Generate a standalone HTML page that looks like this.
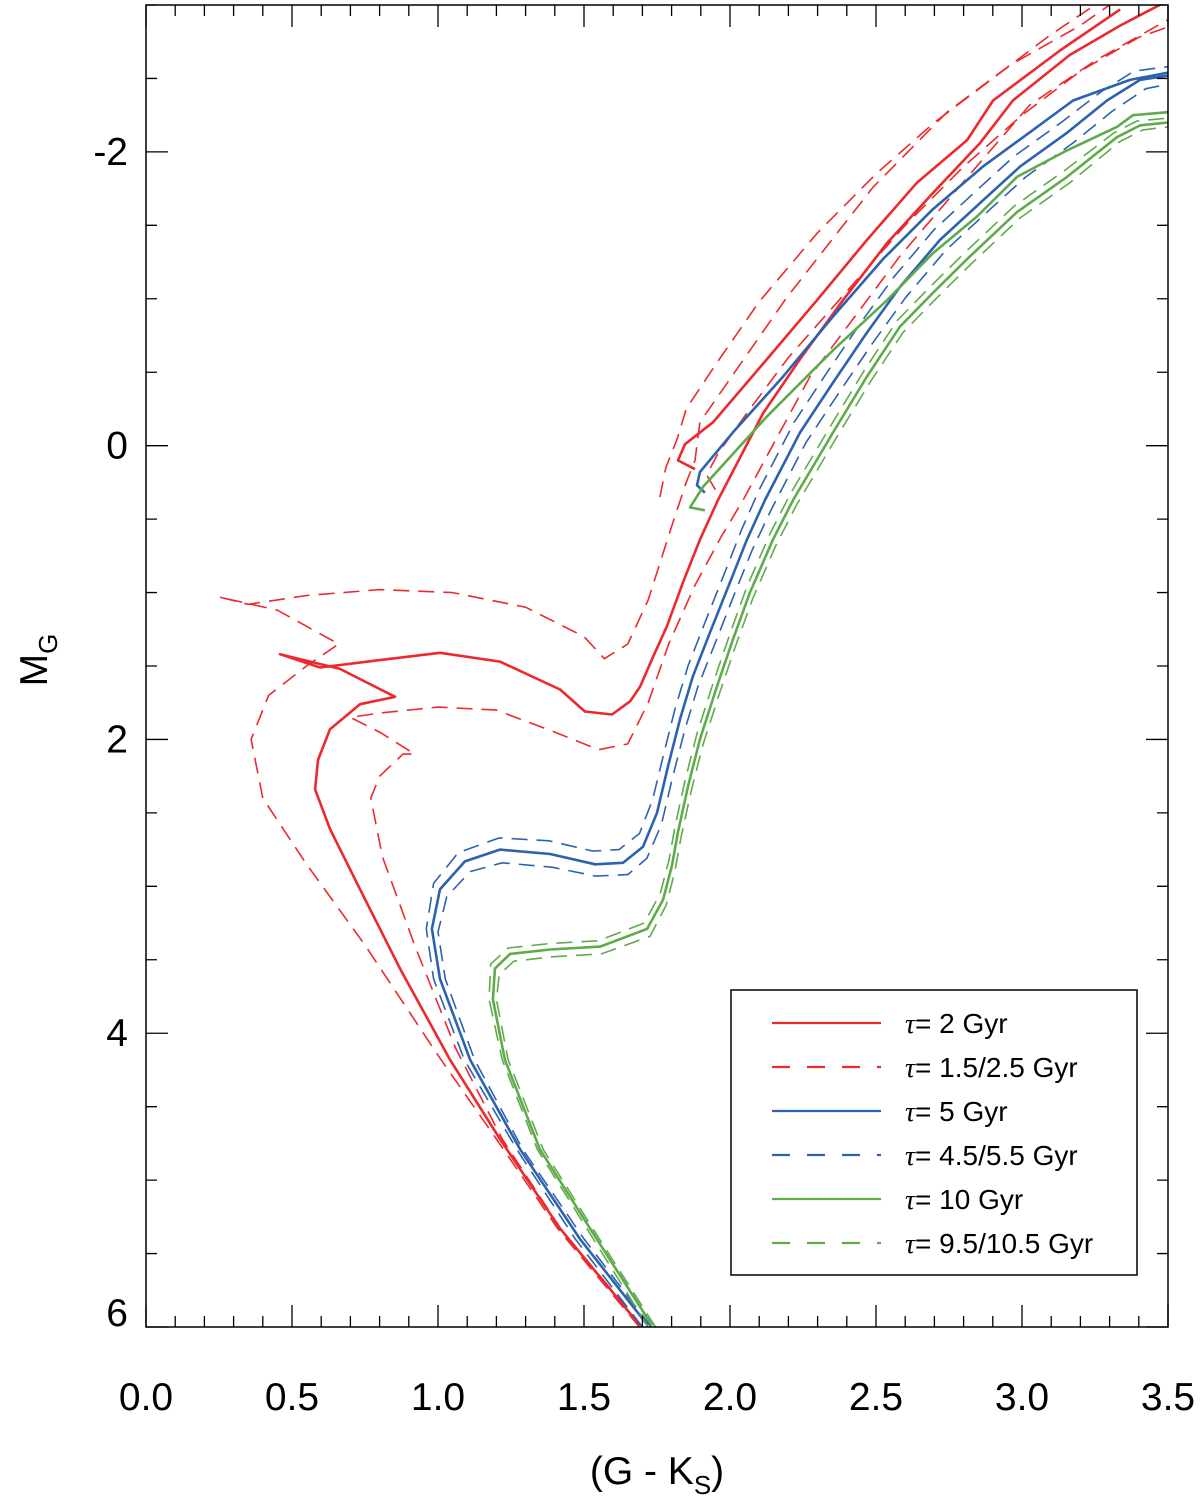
<!DOCTYPE html>
<html><head><meta charset="utf-8"><style>
html,body{margin:0;padding:0;background:#fff;}
svg{display:block;font-family:"Liberation Sans",sans-serif;}
</style></head><body>
<svg id="chart" width="1200" height="1501" viewBox="0 0 1200 1501" xmlns="http://www.w3.org/2000/svg">
<defs><clipPath id="plotclip"><rect x="146" y="5" width="1022" height="1322"/></clipPath></defs>
<g id="marks" clip-path="url(#plotclip)"></g>
<g id="axes"></g>
<g id="legend"></g>
</svg>
<script>
const xTicks=[0.0,0.5,1.0,1.5,2.0,2.5,3.0,3.5];
const xTickLabels=["0.0","0.5","1.0","1.5","2.0","2.5","3.0","3.5"];
const yTicks=[-2,0,2,4,6];
const yTickLabels=["-2","0","2","4","6"];
const red2c=[1.692,1.418,1.212,1.041,0.870,0.733,0.630,0.579,0.589,0.630,0.733,0.853,0.664,0.459,0.596,0.801,1.007,1.212,1.418,1.503,1.596,1.658,1.692,1.736,1.784,1.839,1.897,1.959,2.113,2.240,2.387,2.538,2.695,2.856,2.969,3.164,3.336,3.5];
const red2m=[5.99,5.33,4.72,4.18,3.56,3.02,2.61,2.34,2.14,1.93,1.76,1.71,1.52,1.42,1.51,1.46,1.41,1.47,1.66,1.81,1.83,1.74,1.64,1.44,1.23,0.93,0.64,0.37,-0.22,-0.59,-0.99,-1.38,-1.72,-2.06,-2.35,-2.66,-2.86,-3.03];
const red2Cc=[1.88,1.822,1.846,1.942,2.127,2.298,2.469,2.640,2.812,2.901,3.130,3.336];
const red2Cm=[0.16,0.10,-0.01,-0.16,-0.59,-0.99,-1.40,-1.79,-2.08,-2.35,-2.69,-2.97];
const red15c=[1.69,1.41,1.20,1.0,0.75,0.55,0.40,0.36,0.42,0.55,0.66,0.45,0.25,0.35,0.55,0.80,1.05,1.30,1.50,1.57,1.65,1.72,1.80,1.85,1.88,1.897,2.195,2.490,2.743,2.959,3.199,3.3];
const red15m=[6.0,5.33,4.72,4.15,3.40,2.85,2.40,2.00,1.70,1.50,1.35,1.12,1.03,1.08,1.02,0.98,1.0,1.10,1.30,1.45,1.35,1.05,0.55,0.25,0.10,-0.16,-1.01,-1.76,-2.27,-2.59,-2.86,-3.0];
const red15Cc=[1.76,1.78,1.82,1.85,1.95,2.10,2.30,2.50,2.70,2.90,3.10,3.25];
const red15Cm=[0.35,0.15,-0.05,-0.25,-0.55,-0.98,-1.45,-1.85,-2.20,-2.50,-2.80,-3.0];
const red25c=[1.70,1.42,1.22,1.06,0.92,0.81,0.77,0.80,0.88,0.92,0.80,0.70,0.80,1.0,1.20,1.40,1.55,1.65,1.72,1.79,1.88,1.97,2.045,2.274,2.582,2.866,3.027,3.25,3.5];
const red25m=[6.0,5.33,4.72,4.10,3.40,2.80,2.40,2.25,2.10,2.10,1.95,1.85,1.82,1.78,1.80,1.95,2.07,2.03,1.75,1.35,0.95,0.62,0.37,-0.47,-1.29,-1.95,-2.32,-2.62,-2.90];
const red25Cc=[1.95,1.92,1.96,2.05,2.20,2.40,2.60,2.80,3.00,3.20,3.40,3.5];
const red25Cm=[0.30,0.20,0.05,-0.20,-0.60,-1.05,-1.50,-1.90,-2.25,-2.55,-2.78,-2.85];
const blue5c=[1.719,1.486,1.281,1.110,1.007,0.979,1.007,1.092,1.212,1.384,1.538,1.634,1.702,1.75,1.788,1.829,1.873,1.932,2.0,2.058,2.120,2.240,2.353,2.469,2.582,2.719,2.866,2.993,3.154,3.291,3.404,3.5];
const blue5m=[5.99,5.40,4.79,4.18,3.63,3.29,3.02,2.83,2.75,2.78,2.85,2.84,2.73,2.50,2.18,1.86,1.57,1.27,0.93,0.64,0.37,-0.09,-0.43,-0.77,-1.08,-1.40,-1.67,-1.90,-2.13,-2.35,-2.49,-2.52];
const blue5Cc=[1.914,1.887,1.897,2.010,2.182,2.353,2.524,2.695,2.866,3.038,3.175,3.37,3.5];
const blue5Cm=[0.32,0.27,0.18,-0.09,-0.47,-0.88,-1.27,-1.61,-1.90,-2.15,-2.35,-2.49,-2.54];
const blue45c=[1.70,1.47,1.27,1.09,0.985,0.96,0.985,1.07,1.21,1.38,1.53,1.62,1.69,1.735,1.773,1.812,1.856,1.915,1.983,2.04,2.10,2.22,2.333,2.449,2.562,2.699,2.846,2.973,3.134,3.271,3.384,3.5];
const blue45m=[6.0,5.40,4.79,4.18,3.63,3.29,2.98,2.77,2.67,2.69,2.76,2.75,2.64,2.41,2.10,1.79,1.50,1.20,0.86,0.57,0.30,-0.16,-0.50,-0.84,-1.15,-1.47,-1.74,-1.97,-2.20,-2.41,-2.55,-2.58];
const blue55c=[1.73,1.50,1.29,1.125,1.025,1.0,1.03,1.11,1.22,1.39,1.54,1.65,1.715,1.765,1.803,1.846,1.89,1.95,2.017,2.076,2.14,2.26,2.373,2.489,2.602,2.739,2.886,3.013,3.174,3.311,3.424,3.5];
const blue55m=[6.0,5.40,4.79,4.18,3.63,3.31,3.07,2.90,2.84,2.87,2.93,2.92,2.81,2.58,2.26,1.93,1.64,1.34,1.00,0.71,0.44,-0.02,-0.36,-0.70,-1.01,-1.33,-1.60,-1.83,-2.06,-2.28,-2.43,-2.46];
const green10c=[1.733,1.521,1.349,1.229,1.188,1.195,1.247,1.384,1.555,1.716,1.771,1.801,1.822,1.856,1.897,1.955,2.010,2.068,2.147,2.216,2.353,2.469,2.582,2.695,2.812,2.983,3.154,3.325,3.404,3.5];
const green10m=[5.99,5.33,4.79,4.18,3.77,3.56,3.46,3.43,3.41,3.29,3.09,2.86,2.63,2.32,2.0,1.64,1.32,1.0,0.64,0.37,-0.09,-0.47,-0.81,-1.04,-1.27,-1.59,-1.83,-2.10,-2.18,-2.20];
const green10Cc=[1.914,1.863,1.908,2.127,2.353,2.538,2.695,2.846,2.983,3.154,3.325,3.38,3.5];
const green10Cm=[0.44,0.42,0.28,-0.20,-0.65,-0.99,-1.31,-1.56,-1.83,-2.01,-2.17,-2.25,-2.27];
const green95c=[1.72,1.51,1.34,1.22,1.175,1.18,1.24,1.38,1.55,1.706,1.761,1.791,1.812,1.846,1.887,1.945,2.0,2.058,2.137,2.206,2.343,2.459,2.572,2.685,2.802,2.973,3.144,3.315,3.394,3.5];
const green95m=[6.0,5.33,4.79,4.18,3.77,3.53,3.42,3.39,3.37,3.25,3.05,2.82,2.59,2.28,1.96,1.60,1.28,0.96,0.60,0.33,-0.13,-0.51,-0.85,-1.08,-1.31,-1.63,-1.87,-2.13,-2.21,-2.23];
const green105c=[1.745,1.53,1.36,1.24,1.20,1.21,1.26,1.39,1.56,1.726,1.781,1.811,1.832,1.866,1.907,1.965,2.02,2.078,2.157,2.226,2.363,2.479,2.592,2.705,2.822,2.993,3.164,3.335,3.414,3.5];
const green105m=[6.0,5.33,4.79,4.18,3.77,3.60,3.51,3.48,3.46,3.34,3.13,2.90,2.67,2.36,2.04,1.68,1.36,1.04,0.68,0.41,-0.05,-0.43,-0.77,-1.00,-1.23,-1.55,-1.79,-2.07,-2.15,-2.17];

const X0=146,X1=1168,Y0=5,Y1=1327,xmin=0,xmax=3.5,ymin=-3,ymax=6;
const sx=v=>X0+(v-xmin)/(xmax-xmin)*(X1-X0);
const sy=v=>Y0+(v-ymin)/(ymax-ymin)*(Y1-Y0);
const NS="http://www.w3.org/2000/svg";
const RED="#ec2a2e",BLUE="#2d62b0",GREEN="#5fab4c";
const marks=document.getElementById('marks');
function line(xs,ys,color,dashed,name){
  const p=document.createElementNS(NS,'polyline');
  p.setAttribute('points',xs.map((x,i)=>sx(x).toFixed(1)+','+sy(ys[i]).toFixed(1)).join(' '));
  p.setAttribute('fill','none');p.setAttribute('stroke',color);
  p.setAttribute('stroke-width',dashed?1.6:2.6);
  p.setAttribute('stroke-linejoin','round');
  if(dashed)p.setAttribute('stroke-dasharray','16 9');
  
  
  marks.appendChild(p);
}
line(red15c,red15m,RED,true,'isochrone-1.5gyr');
line(red15Cc,red15Cm,RED,true,'isochrone-1.5gyr-clump');
line(red25c,red25m,RED,true,'isochrone-2.5gyr');
line(red25Cc,red25Cm,RED,true,'isochrone-2.5gyr-clump');
line(red2c,red2m,RED,false,'isochrone-2gyr');
line(red2Cc,red2Cm,RED,false,'isochrone-2gyr-clump');
line(blue45c,blue45m,BLUE,true,'isochrone-4.5gyr');
line(blue55c,blue55m,BLUE,true,'isochrone-5.5gyr');
line(blue5c,blue5m,BLUE,false,'isochrone-5gyr');
line(blue5Cc,blue5Cm,BLUE,false,'isochrone-5gyr-clump');
line(green95c,green95m,GREEN,true,'isochrone-9.5gyr');
line(green105c,green105m,GREEN,true,'isochrone-10.5gyr');
line(green10c,green10m,GREEN,false,'isochrone-10gyr');
line(green10Cc,green10Cm,GREEN,false,'isochrone-10gyr-clump');

const axes=document.getElementById('axes');
function el(tag,attrs,text){const e=document.createElementNS(NS,tag);for(const k in attrs)e.setAttribute(k,attrs[k]);if(text!==undefined)e.textContent=text;axes.appendChild(e);return e;}
const fr=el('rect',{x:X0,y:Y0,width:X1-X0,height:Y1-Y0,fill:'none',stroke:'#000','stroke-width':1.5});


let d='';
for(let i=0;i<=35;i++){const v=i/10,x=sx(v),L=(i%5===0)?22:11;d+=`M${x},${Y1}v${-L}M${x},${Y0}v${L}`;}
for(let i=-6;i<=12;i++){const v=i/2,y=sy(v),L=(i%4===0)?22:11;d+=`M${X0},${y}h${L}M${X1},${y}h${-L}`;}
const tk=el('path',{d:d,stroke:'#000','stroke-width':1.3,fill:'none'});


xTicks.forEach((v,i)=>{const t=el('text',{x:sx(v),y:1410,'font-size':39,'text-anchor':'middle'},xTickLabels[i]);

});
yTicks.forEach((v,i)=>{let y=sy(v)+13;if(v===6)y=1326;const t=el('text',{x:128,y:y,'font-size':39,'text-anchor':'end'},yTickLabels[i]);

});
const xt=el('text',{x:657,y:1484,'font-size':39,'text-anchor':'middle'});
xt.innerHTML='(G - K<tspan font-size="26" dy="10">S</tspan><tspan dy="-10">)</tspan>';


const yt=el('text',{x:0,y:0,'font-size':39,'text-anchor':'middle',transform:'translate(47,660) rotate(-90)'});
yt.innerHTML='M<tspan font-size="26" dy="10">G</tspan>';



const legend=document.getElementById('legend');
const legLabels=["2 Gyr","1.5/2.5 Gyr","5 Gyr","4.5/5.5 Gyr","10 Gyr","9.5/10.5 Gyr"];
const legColors=[RED,RED,BLUE,BLUE,GREEN,GREEN];
const legDashed=[false,true,false,true,false,true];
const box=document.createElementNS(NS,'rect');
box.setAttribute('x',731);box.setAttribute('y',990);box.setAttribute('width',406);box.setAttribute('height',285);
box.setAttribute('fill','#fff');box.setAttribute('stroke','#000');box.setAttribute('stroke-width',1.5);


legend.appendChild(box);
legLabels.forEach((lab,i)=>{
  const y=1023+i*44;
  const g=document.createElementNS(NS,'g');
  
  
  const l=document.createElementNS(NS,'line');
  l.setAttribute('x1',772);l.setAttribute('x2',881);l.setAttribute('y1',y);l.setAttribute('y2',y);
  l.setAttribute('stroke',legColors[i]);l.setAttribute('stroke-width',2.2);
  if(legDashed[i])l.setAttribute('stroke-dasharray','18 17');
  g.appendChild(l);
  const t=document.createElementNS(NS,'text');
  t.setAttribute('x',905);t.setAttribute('y',y+10);t.setAttribute('font-size',28);
  t.innerHTML='<tspan font-family="Liberation Serif, serif" font-style="italic">τ</tspan>= '+lab;
  g.appendChild(t);
  legend.appendChild(g);
});
</script>
</body></html>
